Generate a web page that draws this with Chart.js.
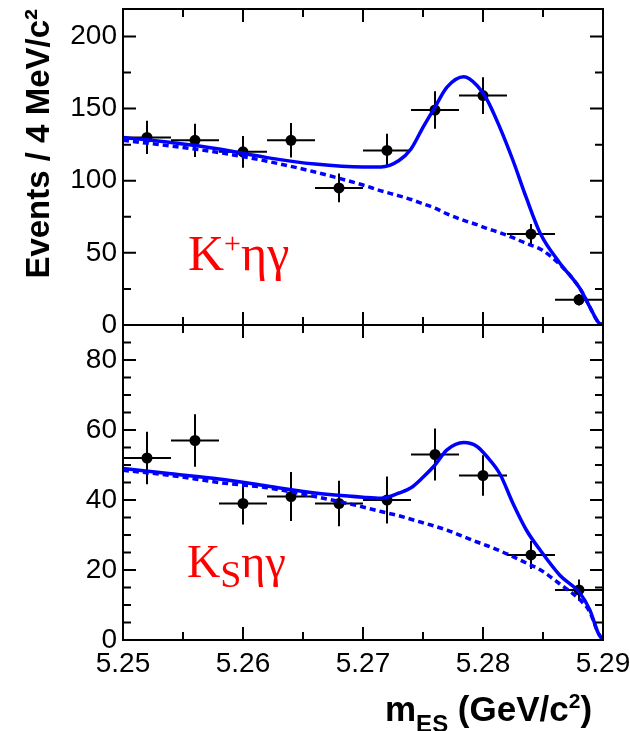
<!DOCTYPE html>
<html>
<head>
<meta charset="utf-8">
<title>mES fits</title>
<script src="https://cdn.jsdelivr.net/npm/chart.js@4.4.1/dist/chart.umd.min.js"></script>
<style>
  html, body { margin: 0; padding: 0; background: #fff; }
  #wrap { position: relative; width: 630px; height: 731px; overflow: hidden; }
  #topChart { position: absolute; left: 0; top: 0; }
  #botChart { position: absolute; left: 0; top: 300px; }
</style>
</head>
<body>
<div id="wrap">
  <canvas id="topChart" width="630" height="345"></canvas>
  <canvas id="botChart" width="630" height="431"></canvas>
</div>
<script>
// bin centres in GeV/c^2 (4 MeV bins)
const binCentres = [5.252, 5.256, 5.26, 5.264, 5.268, 5.272, 5.276, 5.28, 5.284, 5.288];
const binHalfWidth = 0.002;

// K+ eta gamma data
const kplusCounts = [130, 128, 120, 128, 95, 121, 149, 159, 63, 17.5];
const kplusErrors = [11.5, 11.5, 11, 12, 10, 11.5, 13, 12.7, 7, 4];

// Ks eta gamma data
const ksCounts = [52, 57, 39, 41, 39, 40, 53, 47, 24.3, 14.3];
const ksErrors = [7.5, 7.5, 6, 7, 6.5, 6.7, 7.4, 5.8, 4, 3];

// fit curves at these masses
const curveX = [5.25, 5.254, 5.258, 5.262, 5.266, 5.27, 5.2715, 5.273, 5.274, 5.275, 5.276, 5.277,
                5.2784, 5.2795, 5.2803, 5.2814, 5.2825, 5.2836, 5.2848, 5.2864, 5.2881, 5.2889, 5.2896, 5.29];
const kplusFit = [130, 126.5, 122, 116, 111.5, 109.5, 109.5, 114, 122, 137, 151, 164.8,
                  172, 166, 156.7, 137, 114, 88.4, 63, 43, 25, 12.5, 2, 0];
const kplusBkg = [128, 124, 119.5, 113.5, 106, 97, 93, 89.5, 87, 84, 81, 77,
                  72.5, 69.5, 67, 64, 60.5, 56.5, 52.5, 42, 25, 12.5, 2, 0];
const ksFit = [49, 47.5, 46, 44, 42, 40.8, 40.5, 42, 43.5, 46.5, 50, 54.3,
               56.4, 55.3, 52.5, 47.5, 39, 31.5, 25.5, 18.5, 13.3, 8.6, 2, 0];
const ksBkg = [48.5, 47, 45, 43.5, 41, 38, 36.7, 35.5, 34.5, 33.5, 32.5, 31.4,
               29.5, 28, 27, 25.5, 23.8, 22, 20, 16, 11.4, 8, 2, 0];

// tick labels
const xTickLabels = [5.25, 5.26, 5.27, 5.28, 5.29];
const kplusTickLabels = [0, 50, 100, 150, 200];
const ksTickLabels = [0, 20, 40, 60, 80];

Chart.defaults.font.family = "'Liberation Sans', Arial, sans-serif";
Chart.defaults.color = '#000';

const LINE_BLUE = '#0000ff';

function onStep(v, step) {
	const r = v / step;
	return Math.abs(r - Math.round(r)) < 1e-6;
}

function inList(v, list) {
	return list.some(l => Math.abs(l - v) < 1e-9);
}

// error bars, drawn under the points
const errorBarPlugin = {
	id: 'errorBars',
	beforeDatasetsDraw(chart) {
		const ds = chart.data.datasets[0];
		const xs = chart.scales.x, ys = chart.scales.y;
		const ctx = chart.ctx;
		ctx.save();
		ctx.strokeStyle = '#000';
		ctx.lineWidth = 2;
		ctx.beginPath();
		ds.data.forEach((p, i) => {
			const e = ds.yErrors[i];
			const py = ys.getPixelForValue(p.y);
			const px = xs.getPixelForValue(p.x);
			ctx.moveTo(xs.getPixelForValue(p.x - binHalfWidth), py);
			ctx.lineTo(xs.getPixelForValue(p.x + binHalfWidth), py);
			ctx.moveTo(px, ys.getPixelForValue(p.y - e));
			ctx.lineTo(px, ys.getPixelForValue(p.y + e));
		});
		ctx.stroke();
		ctx.restore();
	}
};

// ROOT style frame with inward ticks on all four sides
const framePlugin = {
	id: 'frame',
	afterDatasetsDraw(chart, args, opts) {
		const ctx = chart.ctx;
		const a = chart.chartArea;
		const xs = chart.scales.x, ys = chart.scales.y;
		ctx.save();
		ctx.strokeStyle = '#000';
		ctx.lineWidth = 2;
		ctx.strokeRect(a.left, a.top, a.right - a.left, a.bottom - a.top);
		ctx.beginPath();
		xs.ticks.forEach(t => {
			if (!onStep(t.value, opts.xMinor)) return;
			const px = xs.getPixelForValue(t.value);
			const len = onStep(t.value, opts.xMajor) ? 13 : 8;
			ctx.moveTo(px, a.bottom); ctx.lineTo(px, a.bottom - len);
			ctx.moveTo(px, a.top); ctx.lineTo(px, a.top + len);
		});
		ys.ticks.forEach(t => {
			if (!onStep(t.value, opts.yMinor)) return;
			const py = ys.getPixelForValue(t.value);
			const len = onStep(t.value, opts.yMajor) ? 13 : 8;
			ctx.moveTo(a.left, py); ctx.lineTo(a.left + len, py);
			ctx.moveTo(a.right, py); ctx.lineTo(a.right - len, py);
		});
		ctx.stroke();
		ctx.restore();
	}
};

// text with sub/superscripts, drawn run by run
function richText(id, items) {
	return {
		id: id,
		afterDraw(chart) {
			const ctx = chart.ctx;
			ctx.save();
			ctx.textAlign = 'left';
			ctx.textBaseline = 'alphabetic';
			items.forEach(item => {
				let x = item.x;
				ctx.fillStyle = item.color;
				item.runs.forEach(r => {
					ctx.font = r.font;
					ctx.fillText(r.text, x, item.y + (r.shift || 0));
					x += ctx.measureText(r.text).width;
				});
			});
			ctx.restore();
		}
	};
}

function makePanel(canvasId, cfg) {
	const points = binCentres.map((x, i) => ({x: x, y: cfg.counts[i]}));
	const fitPts = curveX.map((x, i) => ({x: x, y: cfg.fit[i]}));
	const bkgPts = curveX.map((x, i) => ({x: x, y: cfg.bkg[i]}));

	return new Chart(document.getElementById(canvasId), {
		type: 'scatter',
		data: {
			datasets: [
				{ label: 'data', data: points, yErrors: cfg.errors, order: 2,
				  pointRadius: 5.5, pointBackgroundColor: '#000', pointBorderColor: '#000', pointBorderWidth: 0 },
				{ label: 'background', data: bkgPts, order: 1, showLine: true, pointRadius: 0,
				  borderColor: LINE_BLUE, borderWidth: 3.5, borderDash: [6, 4], cubicInterpolationMode: 'monotone' },
				{ label: 'fit', data: fitPts, order: 0, showLine: true, pointRadius: 0,
				  borderColor: LINE_BLUE, borderWidth: 3.5, cubicInterpolationMode: 'monotone' }
			]
		},
		options: {
			responsive: false,
			animation: false,
			events: [],
			layout: { padding: cfg.padding },
			plugins: {
				legend: { display: false },
				tooltip: { enabled: false },
				frame: { xMinor: 0.005, xMajor: 0.01, yMinor: cfg.yMinor, yMajor: cfg.yMajor }
			},
			scales: {
				x: {
					type: 'linear', min: 5.25, max: 5.29, bounds: 'data',
					grid: { display: false, drawTicks: false },
					border: { display: false },
					ticks: {
						display: cfg.showX, stepSize: 0.005, includeBounds: false, autoSkip: false,
						maxRotation: 0, padding: 7, font: { size: 28 },
						callback: v => inList(v, xTickLabels) ? v.toFixed(2) : ''
					},
					afterFit: s => { s.height = cfg.xHeight; s.paddingLeft = 0; s.paddingRight = 0; }
				},
				y: {
					type: 'linear', min: 0, max: cfg.yMax, bounds: 'data',
					grid: { display: false, drawTicks: false },
					border: { display: false },
					ticks: {
						stepSize: cfg.yMinor, includeBounds: false, autoSkip: false, padding: 6,
						font: { size: 28 },
						callback: v => inList(v, cfg.yLabels) ? String(v) : ''
					},
					title: cfg.yTitle,
					afterFit: s => { s.width = 123; s.paddingTop = 0; s.paddingBottom = 0; }
				}
			}
		},
		plugins: [errorBarPlugin, framePlugin, richText(canvasId + '-text', cfg.texts)]
	});
}

makePanel('topChart', {
	counts: kplusCounts, errors: kplusErrors, fit: kplusFit, bkg: kplusBkg,
	yMax: 219, yMinor: 25, yMajor: 50, yLabels: kplusTickLabels,
	showX: false, xHeight: 0,
	padding: { left: 0, right: 27, top: 9, bottom: 20 },
	yTitle: {
		display: true, text: 'Events / 4 MeV/c\u00b2', align: 'end', color: '#000',
		font: { size: 33, weight: 'bold' }, padding: { top: 20, bottom: 0 }
	},
	texts: [
		{ x: 188, y: 270, color: '#ff0000', runs: [
			{ text: 'K', font: '50px "Liberation Serif"' },
			{ text: '+', font: '30px "Liberation Serif"', shift: -17 },
			{ text: '\u03b7\u03b3', font: '50px "Liberation Serif"' }
		] }
	]
});

makePanel('botChart', {
	counts: ksCounts, errors: ksErrors, fit: ksFit, bkg: ksBkg,
	yMax: 90, yMinor: 5, yMajor: 20, yLabels: ksTickLabels,
	showX: true, xHeight: 91,
	padding: { left: 0, right: 27, top: 25, bottom: 0 },
	yTitle: { display: false },
	texts: [
		{ x: 187, y: 277, color: '#ff0000', runs: [
			{ text: 'K', font: '46px "Liberation Serif"' },
			{ text: 'S', font: '38px "Liberation Serif"', shift: 10 },
			{ text: '\u03b7\u03b3', font: '46px "Liberation Serif"' }
		] },
		{ x: 385, y: 421, color: '#000', runs: [
			{ text: 'm', font: 'bold 35px "Liberation Sans"' },
			{ text: 'ES', font: 'bold 24px "Liberation Sans"', shift: 11 },
			{ text: ' (GeV/c', font: 'bold 35px "Liberation Sans"' },
			{ text: '2', font: 'bold 21px "Liberation Sans"', shift: -13 },
			{ text: ')', font: 'bold 35px "Liberation Sans"' }
		] }
	]
});
</script>
</body>
</html>
